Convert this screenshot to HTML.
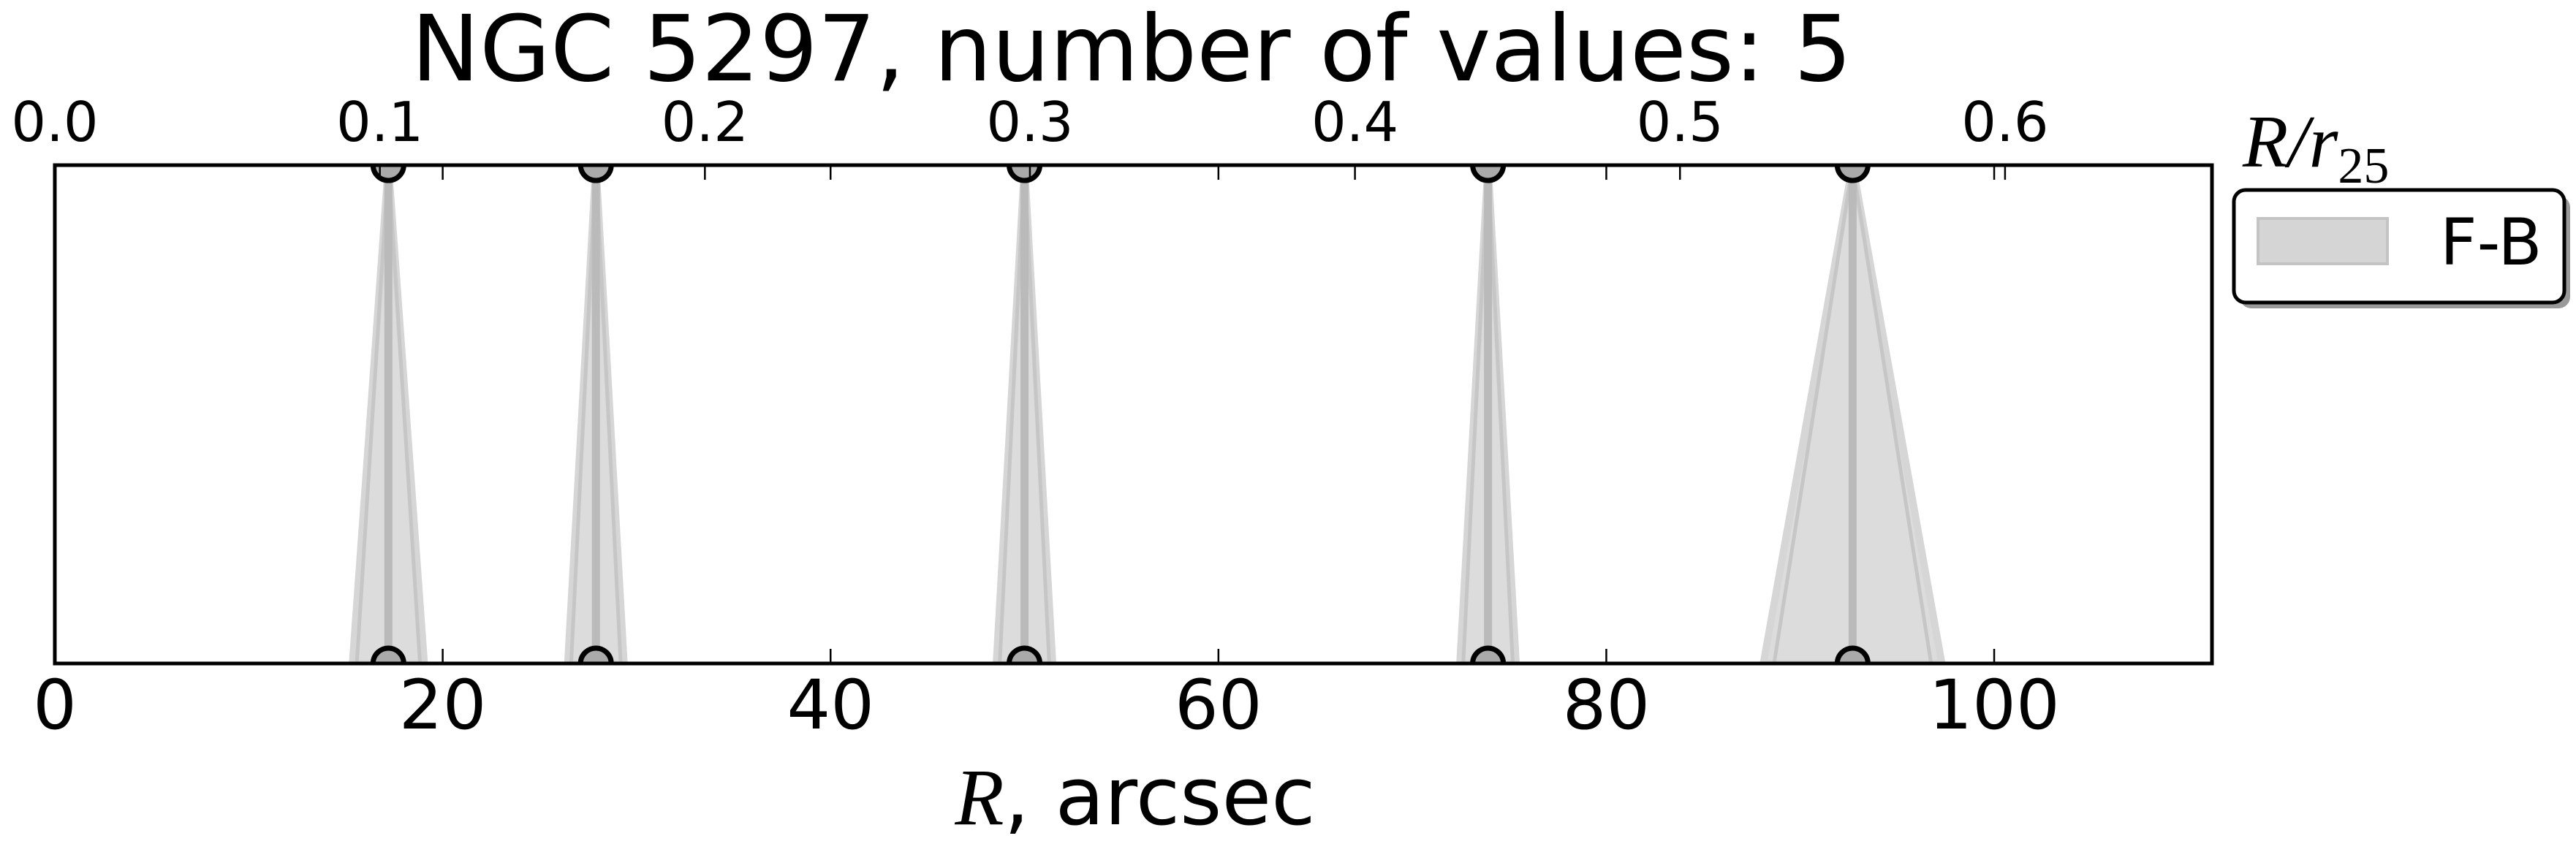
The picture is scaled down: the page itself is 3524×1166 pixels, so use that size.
<!DOCTYPE html>
<html><head><meta charset="utf-8"><style>
html,body{margin:0;padding:0;background:#fff}
svg{display:block}
text{font-family:"DejaVu Sans","Liberation Sans",sans-serif;fill:#000}
</style></head><body>
<svg id="chart" width="3524" height="1166" viewBox="0 0 3524 1166" xmlns="http://www.w3.org/2000/svg">
<defs><clipPath id="plotclip"><rect x="75" y="226" width="2951" height="682"/></clipPath></defs>
<text x="1548" y="110" font-size="125" text-anchor="middle">NGC 5297, number of values: 5</text>
<g id="marks" clip-path="url(#plotclip)"></g>
<rect x="75" y="226" width="2951" height="682" fill="none" stroke="#000" stroke-width="5"/>
<g id="ticks"></g>
<text x="1553" y="1128" font-size="110" text-anchor="middle"><tspan style="font-family:'Liberation Serif',serif;font-style:italic">R</tspan>, arcsec</text>
<text x="3068" y="228" font-size="102" style="font-family:'Liberation Serif',serif;font-style:italic">R/r<tspan font-size="70" dy="22" style="font-style:normal">25</tspan></text>
<g>
<rect x="3064" y="268" width="452" height="154" rx="16" fill="#999"/>
<rect x="3056" y="260" width="452" height="154" rx="16" fill="#fff" stroke="#000" stroke-width="5"/>
<rect x="3089" y="299" width="177" height="62" fill="#d5d5d5" stroke="#c4c4c4" stroke-width="4"/>
<text x="3338" y="362" font-size="88">F-B</text>
</g>
</svg>
<script>
const radii = [17.2, 27.9, 50.0, 73.9, 92.7];
const errors = [1.85, 1.45, 1.45, 1.45, 4.6];
const bottomTicks = [0, 20, 40, 60, 80, 100];
const topTicks = [0.0, 0.1, 0.2, 0.3, 0.4, 0.5, 0.6];
const xMin = 0, xMax = 111.23, r25 = 167.6;
const L = 75, R = 3026, T = 226, B = 908;
const NS = 'http://www.w3.org/2000/svg';
function sx(v){ return L + (v - xMin) / (xMax - xMin) * (R - L); }
function sxr(v){ return sx(v * r25); }
function mk(tag, attrs, parent){ const e = document.createElementNS(NS, tag); for (const k in attrs) e.setAttribute(k, attrs[k]); parent.appendChild(e); return e; }
const marks = document.getElementById('marks');
const ticks = document.getElementById('ticks');
radii.forEach((r, i) => {
  const x = sx(r), e = sx(r + errors[i]) - x;
  const outer = mk('polygon', {points: `${x},${T} ${x-e},${B} ${x+e},${B}`, fill: '#dcdcdc', stroke: '#d6d6d6', 'stroke-width': 10}, marks);
  
  
  const inner = mk('polygon', {points: `${x},${T} ${x-e*0.88},${B} ${x+e*0.88},${B}`, fill: 'none', stroke: '#c6c6c6', 'stroke-width': 5}, marks);
  
  
  const ln = mk('line', {x1: x, y1: T, x2: x, y2: B, stroke: '#bababa', 'stroke-width': 11}, marks);
  
  
  [T, B].forEach((y, j) => {
    const c = mk('circle', {cx: x, cy: y, r: 21, fill: '#aaaaaa', stroke: '#000', 'stroke-width': 7}, marks);
    
    
  });
});
bottomTicks.forEach(v => {
  const x = sx(v);
  if (v > 0) {
    mk('line', {x1: x, y1: B, x2: x, y2: B-20, stroke: '#000', 'stroke-width': 2.5}, ticks);
    mk('line', {x1: x, y1: T, x2: x, y2: T+20, stroke: '#000', 'stroke-width': 2.5}, ticks);
  }
  const t = mk('text', {x: x, y: 997, 'font-size': 94, 'text-anchor': 'middle'}, ticks);
  t.textContent = String(v);
  
  
});
topTicks.forEach(v => {
  const x = sxr(v);
  if (v > 0) mk('line', {x1: x, y1: T, x2: x, y2: T+20, stroke: '#000', 'stroke-width': 2.5}, ticks);
  const t = mk('text', {x: x, y: 193, 'font-size': 75, 'text-anchor': 'middle'}, ticks);
  t.textContent = v.toFixed(1);
  
  
});
</script>
</body></html>
